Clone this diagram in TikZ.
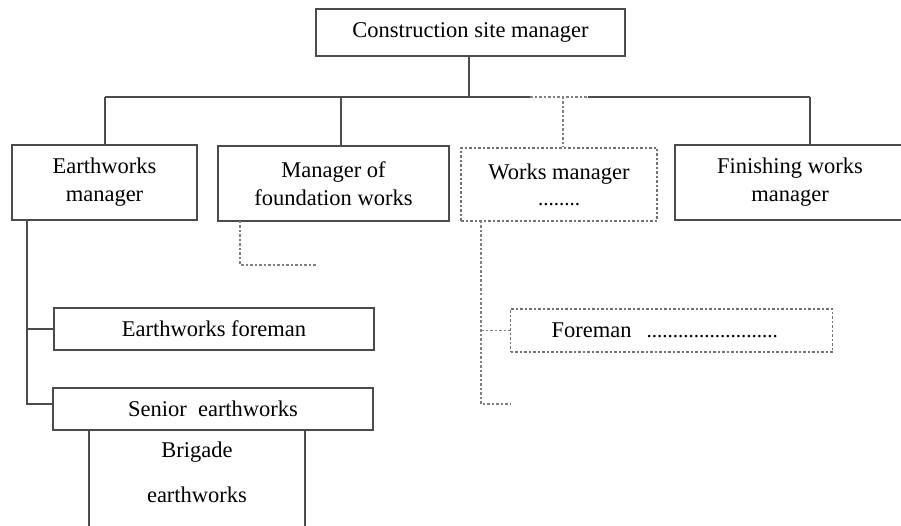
\documentclass[tikz,border=0pt]{standalone}
\usepackage{fontspec}
\setmainfont{Liberation Serif}
\begin{document}
\begin{tikzpicture}[x=1pt,y=-1pt,
  box/.style={draw=black!70,line width=1.3pt,fill=white,inner sep=0pt,align=center,font=\fontsize{22.5}{28}\selectfont},
  dbox/.style={box,draw=black!55,line width=1.1pt,dash pattern=on 2.5pt off 2pt},
  ln/.style={draw=black!70,line width=1.3pt},
  dln/.style={draw=black!50,line width=1.1pt,dash pattern=on 2.5pt off 2pt}]
\useasboundingbox (0,0) rectangle (901,526);
% boxes
\node[box,minimum width=309pt,minimum height=47pt] (top) at (470.5,32.5) {Construction site manager};
\node[box,minimum width=185pt,minimum height=75pt] (ew) at (104.5,182.5) {Earthworks\\manager};
\node[box,minimum width=231pt,minimum height=75pt] (fd) at (333.5,183.5) {Manager of\\foundation works};
\node[dbox,minimum width=196pt,minimum height=73pt] (wm) at (559,184.5) {Works manager\\[-2pt]{\fontsize{21}{21}\selectfont ........}};
\node[box,minimum width=230pt,minimum height=75pt] (fw) at (790,182.5) {Finishing works\\manager};
\node[box,minimum width=320pt,minimum height=42pt] (ef) at (214,329) {Earthworks foreman};
\node[box,minimum width=216pt,minimum height=110pt,anchor=north] (br) at (197,430) {};
\node[font=\fontsize{22.5}{28}\selectfont] (brt) at (197,452) {Brigade};
\node[font=\fontsize{22.5}{28}\selectfont] (brt2) at (197,495) {earthworks};
\node[box,minimum width=320pt,minimum height=42pt] (se) at (213,409) {Senior\ \ earthworks};
\node[dbox,minimum width=322pt,minimum height=43pt,anchor=west,text width=310pt,align=left] (fm) at (510,330.5) {\hspace*{35pt}Foreman {\fontsize{21}{21}\selectfont\ .........................}};
% coordinates
\coordinate (h) at (469,97);
\coordinate (hl) at (105,97);
\coordinate (hr) at (810,97);
\coordinate (d1) at (530,97);
\coordinate (d2) at (588,97);
\coordinate (hf) at (341,97);
\coordinate (hw) at (563,97);
\coordinate (fdc) at (240,221);
\coordinate (fdc2) at (240,265);
\coordinate (fdc3) at (317,265);
\coordinate (ewl) at (27,220);
\coordinate (ewb) at (27,404);
\coordinate (wml) at (481,221);
\coordinate (wmb) at (481,404);
\coordinate (wmbr) at (510,404);
% connectors
\draw[ln] (top.south -| h) -- (h);
\draw[ln] (hl) -- (d1);
\draw[ln] (d2) -- (hr);
\draw[dln] (d1) -- (d2);
\draw[ln] (hl) -- (ew.north -| hl);
\draw[ln] (hf) -- (fd.north -| hf);
\draw[dln] (hw) -- (wm.north -| hw);
\draw[ln] (hr) -- (fw.north -| hr);
\draw[dln] (fdc) -- (fdc2) -- (fdc3);
\draw[ln] (ewl) -- (ewb) -- (se.west |- ewb);
\draw[ln] (ewl |- ef.west) -- (ef.west);
\draw[dln] (wml) -- (wmb) -- (wmbr);
\draw[dln] (wml |- fm.west) -- (fm.west);
\end{tikzpicture}
\end{document}
